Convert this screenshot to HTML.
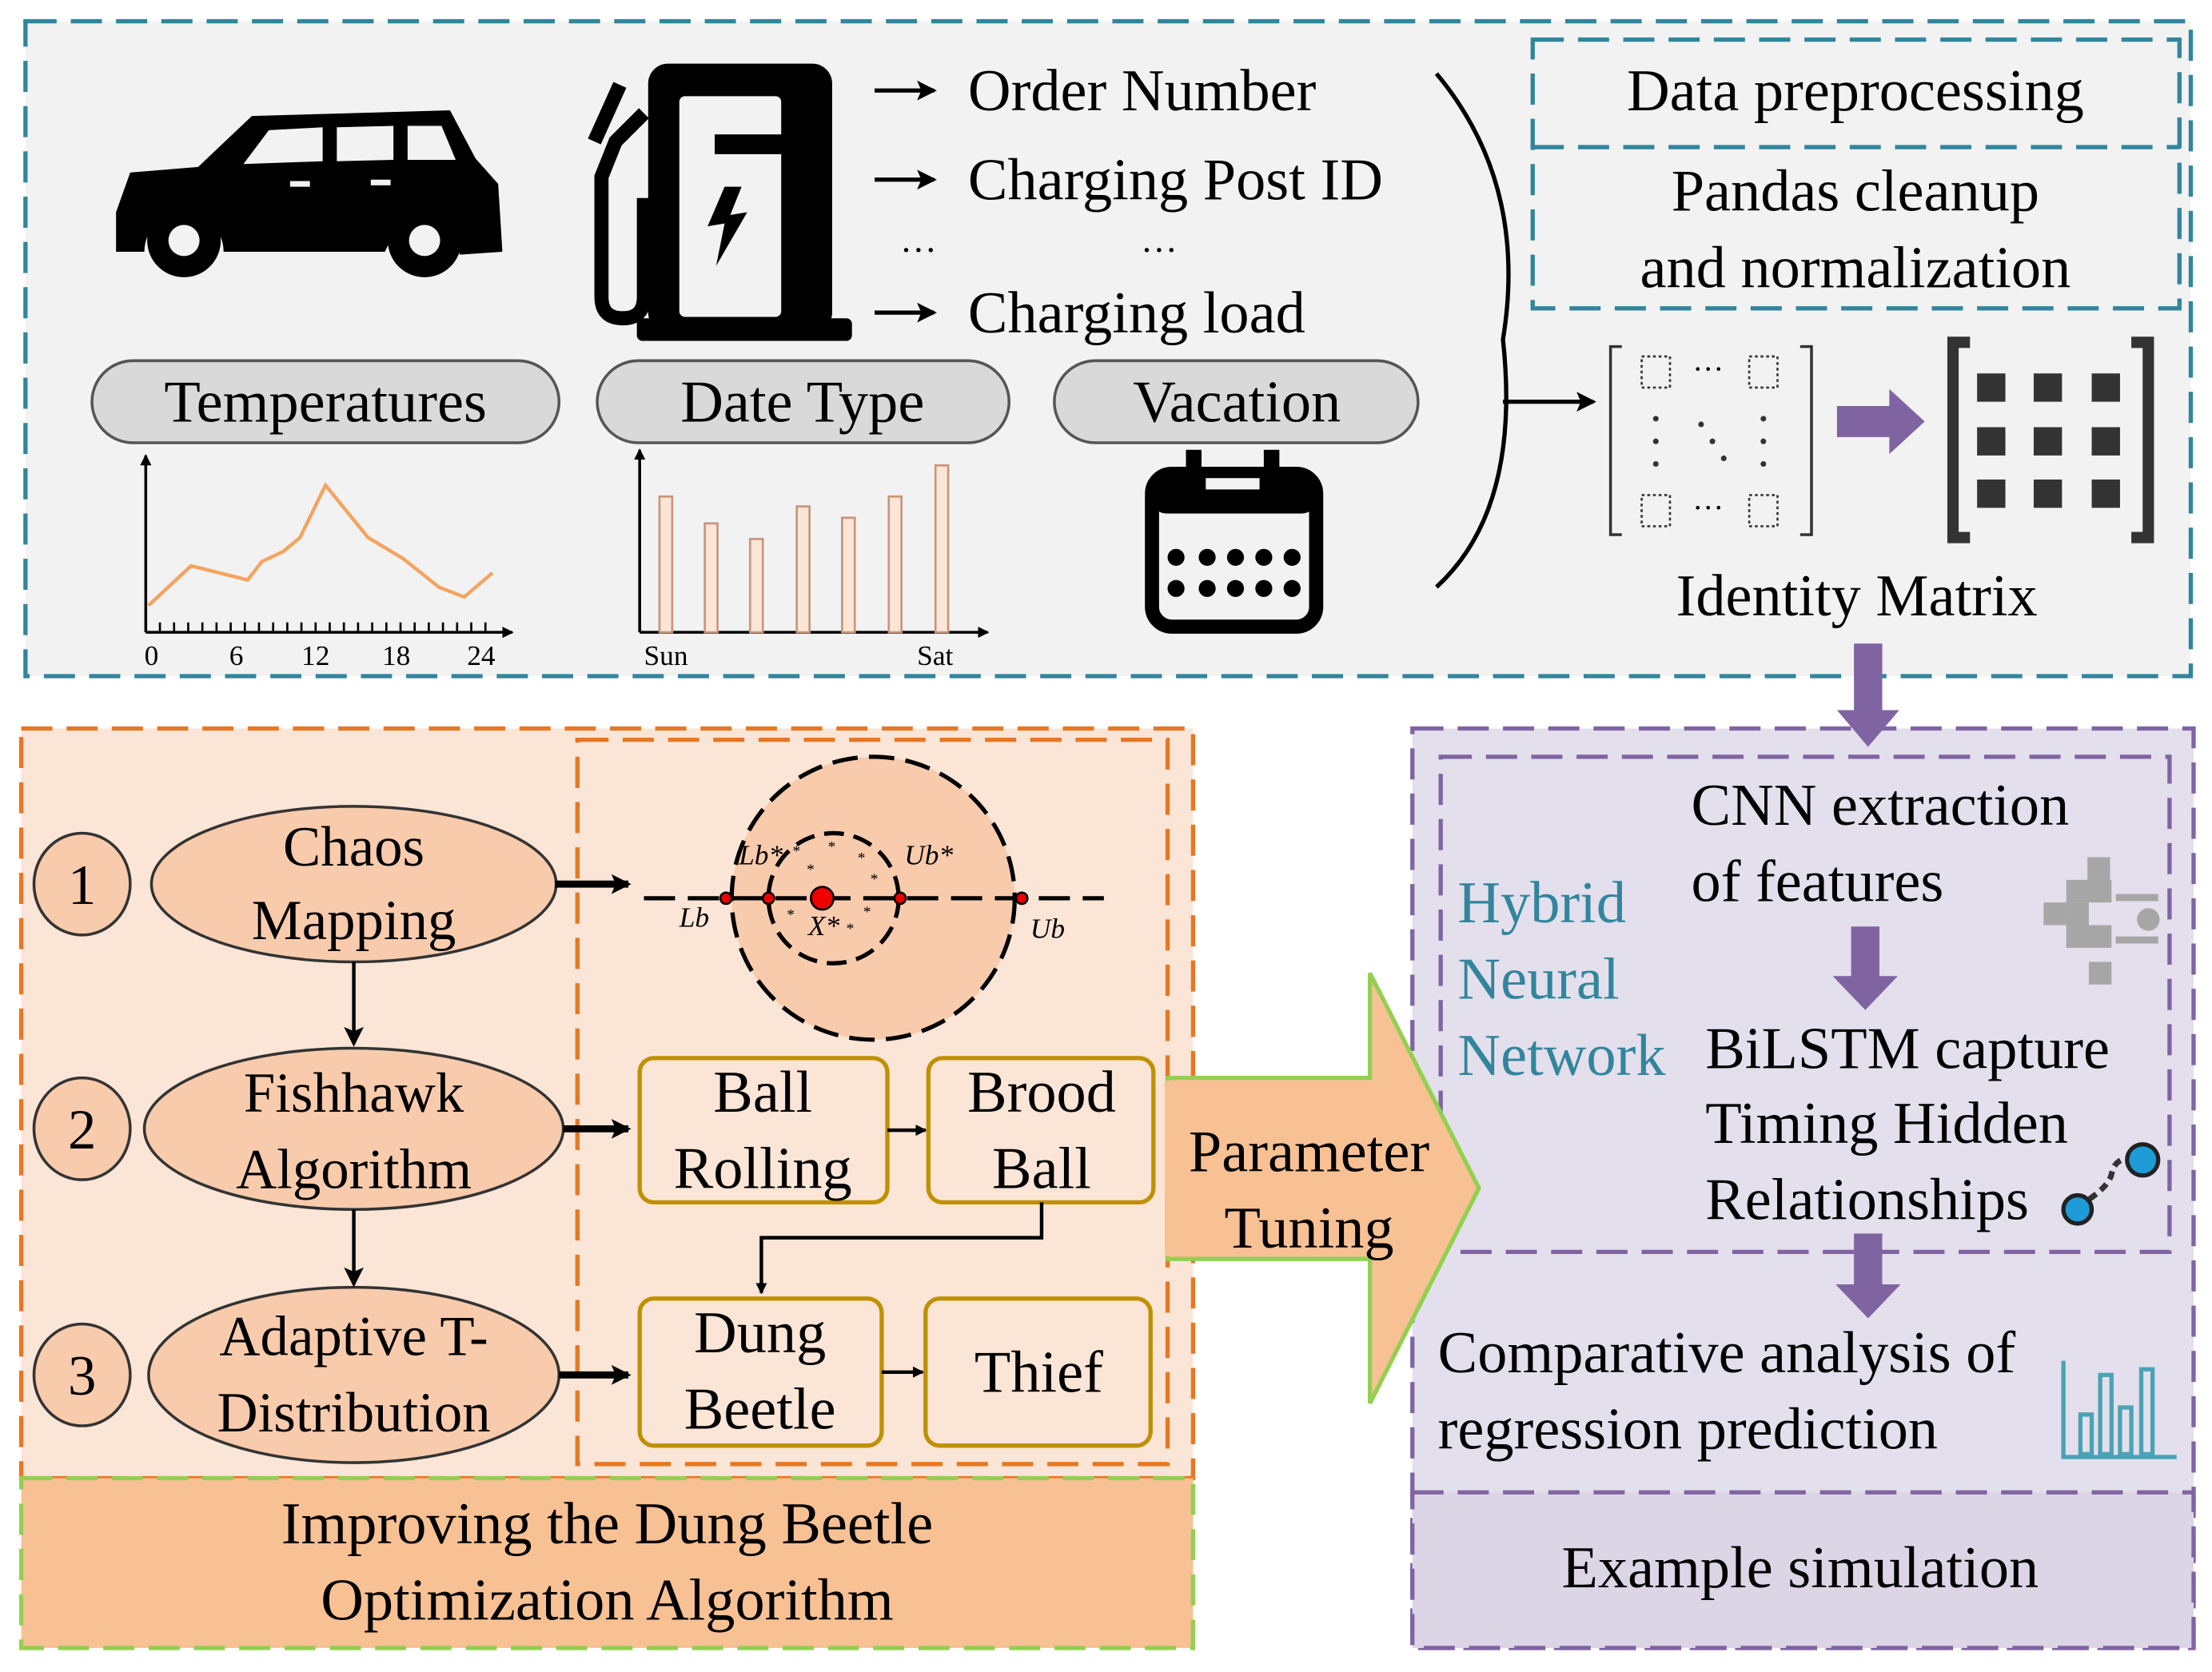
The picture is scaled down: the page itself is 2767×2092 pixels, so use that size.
<!DOCTYPE html>
<html><head><meta charset="utf-8"><style>html,body{margin:0;padding:0;background:#fff}svg{display:block}text{font-family:"Liberation Serif",serif;fill:#000}</style></head><body>
<svg width="2767" height="2092" viewBox="0 0 1563 1182" preserveAspectRatio="none" xmlns="http://www.w3.org/2000/svg">
<defs>
<marker id="ah" markerWidth="8" markerHeight="8" refX="7" refY="4" orient="auto" markerUnits="userSpaceOnUse"><path d="M0,0 L8,4 L0,8 Z" fill="#000"/></marker>
<marker id="ahb" markerWidth="14" markerHeight="14" refX="12" refY="7" orient="auto" markerUnits="userSpaceOnUse"><path d="M0,0 L14,7 L0,14 L3,7 Z" fill="#000"/></marker>
</defs>
<!-- top panel -->
<rect x="18" y="15" width="1530" height="463" fill="#f2f2f2" stroke="#31859c" stroke-width="3" stroke-dasharray="22,10"/>
<rect x="1083" y="28" width="457" height="190" fill="none" stroke="#31859c" stroke-width="3" stroke-dasharray="22,10"/>
<line x1="1083" y1="104" x2="1540" y2="104" stroke="#31859c" stroke-width="3" stroke-dasharray="22,10"/>
<text x="1311" y="78" font-size="42" text-anchor="middle">Data preprocessing</text>
<text x="1311" y="149" font-size="42" text-anchor="middle">Pandas  cleanup</text>
<text x="1311" y="203" font-size="42" text-anchor="middle">and normalization</text>
<!-- car -->
<g fill="#000">
<path d="M82,150 L92,122 L140,118 L178,82 L318,78 L336,112 L352,130 L355,178 L325,180 A28,28 0 0 0 272,178 L158,178 A28,28 0 0 0 102,178 L82,178 Z"/>
<circle cx="130" cy="170" r="26"/><circle cx="300" cy="170" r="26"/>
</g>
<circle cx="130" cy="170" r="11" fill="#f2f2f2"/><circle cx="300" cy="170" r="11" fill="#f2f2f2"/>
<path d="M190,92 L228,90 L228,114 L172,116 Z M238,90 L278,89 L278,113 L238,114 Z M288,89 L312,89 L322,113 L288,113 Z" fill="#f2f2f2"/>
<rect x="205" y="128" width="14" height="4" fill="#f2f2f2"/><rect x="262" y="127" width="14" height="4" fill="#f2f2f2"/>
<!-- charger -->
<g>
<rect x="458" y="45" width="130" height="190" rx="14" fill="#000"/>
<rect x="480" y="68" width="72" height="156" rx="4" fill="#f2f2f2"/>
<rect x="505" y="95" width="80" height="14" fill="#000"/>
<rect x="450" y="225" width="152" height="16" rx="4" fill="#000"/>
<path d="M455,80 L435,100 L425,125 L425,210 Q425,225 440,225 Q455,225 455,210 L455,140" fill="none" stroke="#000" stroke-width="10"/>
<path d="M438,60 L420,100" stroke="#000" stroke-width="10"/>
<path d="M512,132 L500,160 L512,158 L506,188 L528,150 L516,152 L524,132 Z" fill="#000"/>
</g>
<!-- list -->
<g stroke="#000" stroke-width="3"><line x1="618" y1="64" x2="660" y2="64" marker-end="url(#ahb)"/><line x1="618" y1="127" x2="660" y2="127" marker-end="url(#ahb)"/><line x1="618" y1="221" x2="660" y2="221" marker-end="url(#ahb)"/></g>
<text x="684" y="78" font-size="42">Order Number</text>
<text x="684" y="141" font-size="42">Charging Post ID</text>
<text x="636" y="178" font-size="26">…</text><text x="806" y="178" font-size="26">…</text>
<text x="684" y="235" font-size="42">Charging load</text>
<!-- pills -->
<g fill="#d9d9d9" stroke="#555" stroke-width="2">
<rect x="65" y="255" width="330" height="58" rx="29"/><rect x="422" y="255" width="291" height="58" rx="29"/><rect x="745" y="255" width="257" height="58" rx="29"/>
</g>
<text x="230" y="298" font-size="42" text-anchor="middle">Temperatures</text>
<text x="567" y="298" font-size="42" text-anchor="middle">Date Type</text>
<text x="874" y="298" font-size="42" text-anchor="middle">Vacation</text>
<!-- temp chart -->
<line x1="103" y1="447" x2="103" y2="322" stroke="#000" stroke-width="2" marker-end="url(#ah)"/>
<line x1="103" y1="447" x2="362" y2="447" stroke="#000" stroke-width="2" marker-end="url(#ah)"/>
<path d="M103,440 V447 M113,440V447 M123,440V447 M133,440V447 M143,440V447 M153,440V447 M163,440V447 M173,440V447 M183,440V447 M193,440V447 M203,440V447 M213,440V447 M223,440V447 M233,440V447 M243,440V447 M253,440V447 M263,440V447 M273,440V447 M283,440V447 M293,440V447 M303,440V447 M313,440V447 M323,440V447 M333,440V447 M343,440V447" stroke="#000" stroke-width="1.5"/>
<polyline points="105,428 135,400 175,410 185,397 200,390 212,380 230,343 260,380 285,395 310,415 328,422 348,405" fill="none" stroke="#f4a460" stroke-width="2.5"/>
<g font-size="20"><text x="102" y="470">0</text><text x="162" y="470">6</text><text x="213" y="470">12</text><text x="270" y="470">18</text><text x="330" y="470">24</text></g>
<!-- bar chart -->
<line x1="452" y1="447" x2="452" y2="318" stroke="#000" stroke-width="2" marker-end="url(#ah)"/>
<line x1="452" y1="447" x2="698" y2="447" stroke="#000" stroke-width="2" marker-end="url(#ah)"/>
<g fill="#fbe5d6" stroke="#c9947a" stroke-width="1.5">
<rect x="466" y="351" width="9" height="96"/><rect x="498" y="370" width="9" height="77"/><rect x="530" y="381" width="9" height="66"/><rect x="563" y="358" width="9" height="89"/><rect x="595" y="366" width="9" height="81"/><rect x="628" y="351" width="9" height="96"/><rect x="661" y="329" width="9" height="118"/>
</g>
<text x="455" y="470" font-size="20">Sun</text><text x="648" y="470" font-size="20">Sat</text>
<!-- calendar -->
<rect x="814" y="335" width="116" height="108" rx="14" fill="none" stroke="#000" stroke-width="10"/>
<rect x="814" y="335" width="116" height="28" rx="10" fill="#000"/>
<rect x="838" y="318" width="11" height="32" fill="#000"/><rect x="893" y="318" width="11" height="32" fill="#000"/>
<rect x="852" y="338" width="38" height="8" fill="#f2f2f2"/>
<g fill="#000"><circle cx="831" cy="394" r="6"/><circle cx="853" cy="394" r="6"/><circle cx="873" cy="394" r="6"/><circle cx="893" cy="394" r="6"/><circle cx="913" cy="394" r="6"/><circle cx="831" cy="416" r="6"/><circle cx="853" cy="416" r="6"/><circle cx="873" cy="416" r="6"/><circle cx="893" cy="416" r="6"/><circle cx="913" cy="416" r="6"/></g>
<!-- bracket -->
<path d="M1015,52 Q1080,130 1062,240 Q1075,360 1015,415" fill="none" stroke="#000" stroke-width="3"/>
<line x1="1062" y1="284" x2="1126" y2="284" stroke="#000" stroke-width="3" marker-end="url(#ahb)"/>
<!-- matrix -->
<path d="M1146,245 H1138 V378 H1146 M1272,245 H1280 V378 H1272" fill="none" stroke="#333" stroke-width="2"/>
<g fill="none" stroke="#333" stroke-width="1.5" stroke-dasharray="2,2"><rect x="1160" y="252" width="20" height="22"/><rect x="1236" y="252" width="20" height="22"/><rect x="1160" y="350" width="20" height="22"/><rect x="1236" y="350" width="20" height="22"/></g>
<text x="1196" y="268" font-size="22">···</text><text x="1196" y="366" font-size="22">···</text>
<g fill="#333"><circle cx="1170" cy="296" r="2"/><circle cx="1170" cy="312" r="2"/><circle cx="1170" cy="328" r="2"/><circle cx="1246" cy="296" r="2"/><circle cx="1246" cy="312" r="2"/><circle cx="1246" cy="328" r="2"/><circle cx="1202" cy="300" r="2"/><circle cx="1210" cy="312" r="2"/><circle cx="1218" cy="324" r="2"/></g>
<path d="M1298,287 H1335 V275 L1360,298 L1335,321 V309 H1298 Z" fill="#8064a2"/>
<path d="M1392,242 H1380 V380 H1392 M1506,242 H1518 V380 H1506" fill="none" stroke="#333" stroke-width="8"/>
<g fill="#333"><rect x="1397" y="264" width="20" height="20"/><rect x="1437" y="264" width="20" height="20"/><rect x="1478" y="264" width="20" height="20"/><rect x="1397" y="302" width="20" height="20"/><rect x="1437" y="302" width="20" height="20"/><rect x="1478" y="302" width="20" height="20"/><rect x="1397" y="339" width="20" height="20"/><rect x="1437" y="339" width="20" height="20"/><rect x="1478" y="339" width="20" height="20"/></g>
<text x="1312" y="435" font-size="42" text-anchor="middle">Identity Matrix</text>
<!-- bottom left panel -->
<rect x="15" y="515" width="828" height="530" fill="#fbe5d6" stroke="#e87722" stroke-width="3" stroke-dasharray="22,10"/>
<rect x="408" y="523" width="417" height="512" fill="none" stroke="#e87722" stroke-width="3" stroke-dasharray="22,10"/>
<rect x="15" y="1045" width="828" height="120" fill="#f8c194" stroke="#92d050" stroke-width="3" stroke-dasharray="22,10"/>
<text x="429" y="1091" font-size="42" text-anchor="middle">Improving the Dung Beetle</text>
<text x="429" y="1145" font-size="42" text-anchor="middle">Optimization Algorithm</text>
<g fill="#f8cbad" stroke="#333" stroke-width="2">
<ellipse cx="58" cy="625" rx="34" ry="36"/><ellipse cx="58" cy="798" rx="34" ry="36"/><ellipse cx="58" cy="972" rx="34" ry="36"/>
<ellipse cx="250" cy="625" rx="143" ry="55"/><ellipse cx="250" cy="798" rx="148" ry="57"/><ellipse cx="250" cy="972" rx="145" ry="62"/>
</g>
<g font-size="40" text-anchor="middle"><text x="58" y="639">1</text><text x="58" y="812">2</text><text x="58" y="986">3</text>
<text x="250" y="612">Chaos</text><text x="250" y="664">Mapping</text>
<text x="250" y="786">Fishhawk</text><text x="250" y="840">Algorithm</text>
<text x="250" y="958">Adaptive T-</text><text x="250" y="1012">Distribution</text></g>
<line x1="250" y1="680" x2="250" y2="738" stroke="#000" stroke-width="2.5" marker-end="url(#ahb)"/>
<line x1="250" y1="855" x2="250" y2="908" stroke="#000" stroke-width="2.5" marker-end="url(#ahb)"/>
<g stroke="#000" stroke-width="5"><line x1="392" y1="625" x2="444" y2="625" marker-end="url(#ahb)"/><line x1="398" y1="798" x2="444" y2="798" marker-end="url(#ahb)"/><line x1="395" y1="972" x2="444" y2="972" marker-end="url(#ahb)"/></g>
<!-- circle diagram -->
<circle cx="617" cy="635" r="100" fill="#f8cbad" stroke="#000" stroke-width="3" stroke-dasharray="18,8"/>
<circle cx="589" cy="635" r="46" fill="none" stroke="#000" stroke-width="3" stroke-dasharray="14,7"/>
<line x1="455" y1="635" x2="780" y2="635" stroke="#000" stroke-width="3" stroke-dasharray="22,9"/>
<g fill="#e00" stroke="#000" stroke-width="1.5"><circle cx="513" cy="635" r="4"/><circle cx="543" cy="635" r="4"/><circle cx="636" cy="635" r="4"/><circle cx="722" cy="635" r="4"/><circle cx="581" cy="635" r="8"/></g>
<g font-size="20" font-style="italic"><text x="522" y="611">Lb*</text><text x="639" y="611">Ub*</text><text x="480" y="655">Lb</text><text x="728" y="663">Ub</text><text x="571" y="661">X*</text></g>
<g font-size="11"><text x="560" y="605">*</text><text x="585" y="602">*</text><text x="606" y="610">*</text><text x="615" y="625">*</text><text x="556" y="650">*</text><text x="598" y="660">*</text><text x="610" y="648">*</text><text x="570" y="618">*</text></g>
<!-- boxes -->
<g fill="#fbe5d6" stroke="#bf9000" stroke-width="3">
<rect x="452" y="748" width="175" height="102" rx="10"/><rect x="656" y="748" width="159" height="102" rx="10"/>
<rect x="452" y="918" width="171" height="104" rx="10"/><rect x="654" y="918" width="159" height="104" rx="10"/>
</g>
<g font-size="42" text-anchor="middle"><text x="539" y="786">Ball</text><text x="539" y="840">Rolling</text>
<text x="736" y="786">Brood</text><text x="736" y="840">Ball</text>
<text x="537" y="956">Dung</text><text x="537" y="1010">Beetle</text>
<text x="734" y="984">Thief</text></g>
<line x1="627" y1="799" x2="654" y2="799" stroke="#000" stroke-width="2.5" marker-end="url(#ah)"/>
<line x1="623" y1="970" x2="652" y2="970" stroke="#000" stroke-width="2.5" marker-end="url(#ah)"/>
<polyline points="736,850 736,875 538,875 538,914" fill="none" stroke="#000" stroke-width="2.5" marker-end="url(#ah)"/>
<!-- right panel -->
<rect x="998" y="515" width="552" height="650" fill="#e4dfec" stroke="#8064a2" stroke-width="3" stroke-dasharray="22,10"/>
<rect x="998" y="1055" width="552" height="110" fill="#dcd5e6" stroke="#8064a2" stroke-width="3" stroke-dasharray="22,10"/>
<rect x="1018" y="535" width="515" height="350" fill="none" stroke="#8064a2" stroke-width="3" stroke-dasharray="22,10"/>
<text x="1272" y="1122" font-size="42" text-anchor="middle">Example simulation</text>
<!-- big arrow -->
<path d="M825,762 H968 V688 L1045,840 L968,992 V890 H825 Z" fill="#f8c194" stroke="#92d050" stroke-width="3"/>
<rect x="823" y="764" width="4" height="124" fill="#f8c194"/>
<text x="925" y="828" font-size="42" text-anchor="middle">Parameter</text>
<text x="925" y="882" font-size="42" text-anchor="middle">Tuning</text>
<!-- purple arrows -->
<path d="M1310,455 H1330 V502 H1342 L1320,528 L1298,502 H1310 Z" fill="#8064a2"/>
<path d="M1308,655 H1328 V690 H1341 L1318,714 L1295,690 H1308 Z" fill="#8064a2"/>
<path d="M1310,872 H1330 V908 H1343 L1320,932 L1297,908 H1310 Z" fill="#8064a2"/>
<g font-size="42" fill="#31859c"><text x="1030" y="652" style="fill:#31859c">Hybrid</text><text x="1030" y="706" style="fill:#31859c">Neural</text><text x="1030" y="760" style="fill:#31859c">Network</text></g>
<g font-size="42"><text x="1195" y="583">CNN extraction</text><text x="1195" y="637">of features</text>
<text x="1205" y="755">BiLSTM capture</text><text x="1205" y="808">Timing Hidden</text><text x="1205" y="862">Relationships</text>
<text x="1016" y="970">Comparative analysis of</text><text x="1016" y="1024">regression prediction</text></g>
<!-- cnn icon -->
<g fill="#a6a6a6"><rect x="1475" y="606" width="16" height="16"/><rect x="1460" y="622" width="16" height="16"/><rect x="1476" y="622" width="16" height="16"/><rect x="1444" y="638" width="16" height="16"/><rect x="1460" y="638" width="16" height="16"/><rect x="1460" y="654" width="16" height="16"/><rect x="1476" y="654" width="16" height="16"/><rect x="1476" y="680" width="16" height="16"/><rect x="1495" y="632" width="30" height="5"/><rect x="1495" y="662" width="30" height="5"/><circle cx="1518" cy="650" r="8"/></g>
<!-- bilstm icon -->
<path d="M1468,853 Q1490,840 1492,830 Q1495,815 1514,820" fill="none" stroke="#333" stroke-width="4" stroke-dasharray="6,4"/>
<circle cx="1468" cy="855" r="10" fill="#1f9bd7" stroke="#222" stroke-width="3"/>
<circle cx="1514" cy="820" r="11" fill="#1f9bd7" stroke="#222" stroke-width="3"/>
<!-- bar icon -->
<g fill="none" stroke="#4aa3b5" stroke-width="3"><path d="M1458,962 V1030 H1538"/><rect x="1470" y="1000" width="8" height="28"/><rect x="1484" y="972" width="8" height="56"/><rect x="1498" y="995" width="8" height="33"/><rect x="1513" y="968" width="8" height="60"/></g>
</svg>
</body></html>
